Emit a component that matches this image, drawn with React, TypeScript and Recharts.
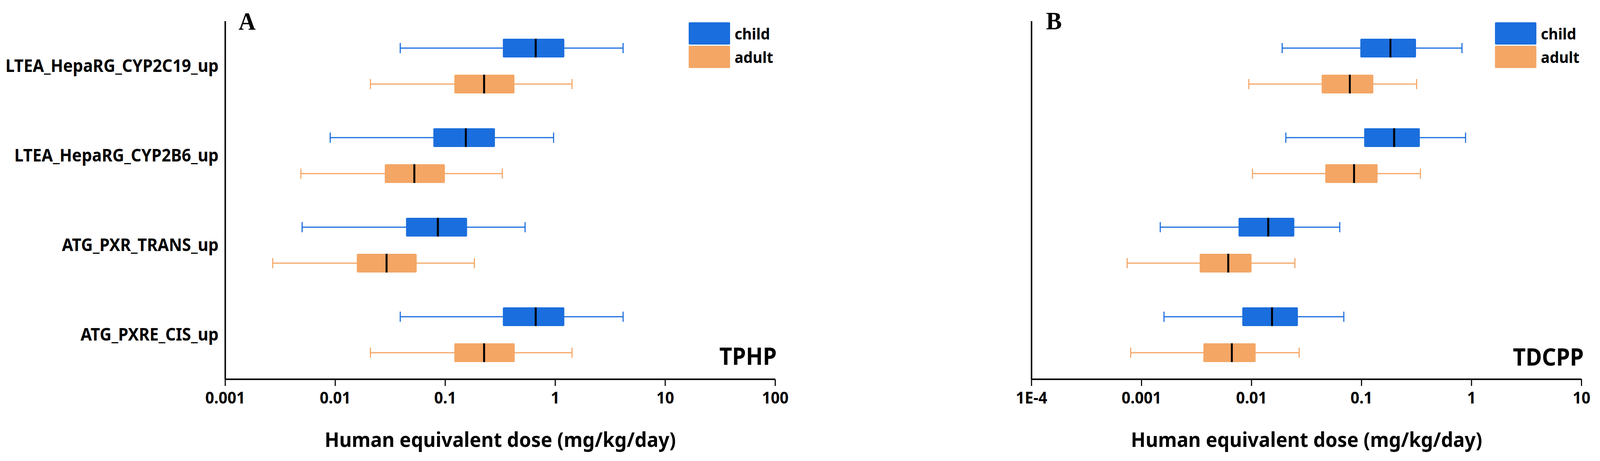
import { Bar, ComposedChart, ErrorBar, Legend, XAxis, YAxis } from 'recharts';

// assays, top to bottom
const CATEGORIES = [
  'LTEA_HepaRG_CYP2C19_up',
  'LTEA_HepaRG_CYP2B6_up',
  'ATG_PXR_TRANS_up',
  'ATG_PXRE_CIS_up',
];

const GROUPS = ['child', 'adult'] as const;
const COLORS: Record<string, string> = { child: '#1b6edd', adult: '#f4a665' };

// TPHP (panel A), mg/kg/day
const TPHP_CHILD_MIN = [0.039, 0.009, 0.005, 0.039];
const TPHP_CHILD_Q1 = [0.334, 0.078, 0.044, 0.334];
const TPHP_CHILD_MED = [0.664, 0.154, 0.0857, 0.664];
const TPHP_CHILD_Q3 = [1.21, 0.283, 0.158, 1.21];
const TPHP_CHILD_MAX = [4.14, 0.966, 0.532, 4.14];

const TPHP_ADULT_MIN = [0.0209, 0.00487, 0.0027, 0.0209];
const TPHP_ADULT_Q1 = [0.121, 0.0282, 0.0157, 0.121];
const TPHP_ADULT_MED = [0.2255, 0.0524, 0.0293, 0.2255];
const TPHP_ADULT_Q3 = [0.426, 0.0993, 0.055, 0.428];
const TPHP_ADULT_MAX = [1.42, 0.33, 0.184, 1.42];

// TDCPP (panel B)
const TDCPP_CHILD_MIN = [0.019, 0.0205, 0.00148, 0.0016];
const TDCPP_CHILD_Q1 = [0.0975, 0.1057, 0.00762, 0.00824];
const TDCPP_CHILD_MED = [0.183, 0.198, 0.0142, 0.01535];
const TDCPP_CHILD_Q3 = [0.313, 0.339, 0.0245, 0.0264];
const TDCPP_CHILD_MAX = [0.819, 0.883, 0.0634, 0.069];

const TDCPP_ADULT_MIN = [0.00944, 0.0102, 0.00074, 0.000797];
const TDCPP_ADULT_Q1 = [0.0434, 0.0468, 0.00338, 0.00365];
const TDCPP_ADULT_MED = [0.0783, 0.0855, 0.00614, 0.00662];
const TDCPP_ADULT_Q3 = [0.128, 0.14, 0.01, 0.0109];
const TDCPP_ADULT_MAX = [0.317, 0.343, 0.0248, 0.0271];

const A_TICKS = [0.001, 0.01, 0.1, 1, 10, 100];
const A_TICK_LABELS = ['0.001', '0.01', '0.1', '1', '10', '100'];
const B_TICKS = [0.0001, 0.001, 0.01, 0.1, 1, 10];
const B_TICK_LABELS = ['1E-4', '0.001', '0.01', '0.1', '1', '10'];

const X_TITLE = 'Human equivalent dose (mg/kg/day)';
const FONT = '"Noto Sans", sans-serif';

const PAGE_W = 4326;
const PAGE_H = 1179;

type Stats = { min: number[]; q1: number[]; med: number[]; q3: number[]; max: number[] };

function buildRows(child: Stats, adult: Stats) {
  return CATEGORIES.map((name, i) => {
    const row: Record<string, unknown> = { name };
    [['child', child], ['adult', adult]].forEach(([key, s]) => {
      const st = s as Stats;
      const k = key as string;
      row[k] = [st.q1[i], st.q3[i]];
      // error bars hang off q3 (the bar's value)
      row[k + 'Whisker'] = [st.q3[i] - st.min[i], st.max[i] - st.q3[i]];
      row[k + 'Median'] = [st.q3[i] - st.med[i], st.med[i] - st.q3[i]];
    });
    return row;
  });
}

const tphpRows = buildRows(
  { min: TPHP_CHILD_MIN, q1: TPHP_CHILD_Q1, med: TPHP_CHILD_MED, q3: TPHP_CHILD_Q3, max: TPHP_CHILD_MAX },
  { min: TPHP_ADULT_MIN, q1: TPHP_ADULT_Q1, med: TPHP_ADULT_MED, q3: TPHP_ADULT_Q3, max: TPHP_ADULT_MAX },
);
const tdcppRows = buildRows(
  { min: TDCPP_CHILD_MIN, q1: TDCPP_CHILD_Q1, med: TDCPP_CHILD_MED, q3: TDCPP_CHILD_Q3, max: TDCPP_CHILD_MAX },
  { min: TDCPP_ADULT_MIN, q1: TDCPP_ADULT_Q1, med: TDCPP_ADULT_MED, q3: TDCPP_ADULT_Q3, max: TDCPP_ADULT_MAX },
);

function LegendContent() {
  return (
    <div style={{ display: 'flex', flexDirection: 'column', gap: 3 }}>
      {GROUPS.map((g) => (
        <div key={g} style={{ display: 'flex', alignItems: 'center', height: 57 }}>
          <div style={{ width: 112, height: 57, background: COLORS[g], borderRadius: 3 }} />
          <span style={{ marginLeft: 12, fontFamily: FONT, fontWeight: 700, fontSize: 40, color: '#000' }}>{g}</span>
        </div>
      ))}
    </div>
  );
}

interface PanelProps {
  rows: Record<string, unknown>[];
  width: number;
  axisWidth: number;
  rightMargin: number;
  ticks: number[];
  tickLabels: string[];
  showCategories: boolean;
}

function Panel({ rows, width, axisWidth, rightMargin, ticks, tickLabels, showCategories }: PanelProps) {
  const tickStyle = { fontSize: 42, fontWeight: 700, fill: '#000', fontFamily: FONT };
  const catStyle = { fontSize: 44, fontWeight: 700, fill: '#000', fontFamily: FONT };
  return (
    <ComposedChart
      width={width}
      height={PAGE_H}
      data={rows}
      layout="vertical"
      barGap={44}
      margin={{ top: 54, right: rightMargin, bottom: 0, left: 0 }}
    >
      <XAxis
        type="number"
        scale="log"
        domain={[ticks[0], ticks[ticks.length - 1]]}
        allowDataOverflow
        ticks={ticks}
        interval={0}
        tickFormatter={(_v: number, i: number) => tickLabels[i]}
        height={209}
        axisLine={{ stroke: '#000', strokeWidth: 4 }}
        tickLine={{ stroke: '#000', strokeWidth: 3 }}
        tickSize={17}
        tickMargin={15}
        tick={tickStyle}
        label={{
          value: X_TITLE,
          position: 'insideBottom',
          offset: 36,
          fontSize: 52,
          fontWeight: 700,
          fill: '#000',
          fontFamily: FONT,
        }}
      />
      <YAxis
        type="category"
        dataKey="name"
        width={axisWidth}
        interval={0}
        axisLine={{ stroke: '#000', strokeWidth: 4 }}
        tickLine={false}
        tickSize={0}
        tickMargin={18}
        tick={showCategories ? catStyle : false}
      />
      <Legend
        layout="horizontal"
        align="center"
        verticalAlign="middle"
        content={() => <LegendContent />}
        wrapperStyle={{ left: width - rightMargin - 234, top: 57, width: 'auto' }}
      />
      {GROUPS.map((g) => (
        <Bar
          key={g}
          dataKey={g}
          name={g}
          fill={COLORS[g]}
          barSize={48}
          radius={3}
          isAnimationActive={false}
        >
          <ErrorBar
            dataKey={g + 'Whisker'}
            direction="x"
            width={13}
            stroke={COLORS[g]}
            strokeWidth={3}
            isAnimationActive={false}
          />
          <ErrorBar
            dataKey={g + 'Median'}
            direction="x"
            width={24}
            stroke="#000"
            strokeWidth={5}
            isAnimationActive={false}
          />
        </Bar>
      ))}
    </ComposedChart>
  );
}

export default function App() {
  // the viewport can come out narrower than the figure; squeeze horizontally so nothing is cut
  const sx = typeof window !== 'undefined' ? Math.min(1, window.innerWidth / PAGE_W) : 1;
  return (
    <div
      style={{
        position: 'absolute',
        left: 0,
        top: 0,
        width: PAGE_W,
        height: PAGE_H,
        background: '#fff',
        transform: `scaleX(${sx})`,
        transformOrigin: '0 0',
      }}
    >
      <div style={{ position: 'absolute', left: 0, top: 0 }}>
        <Panel
          rows={tphpRows}
          width={2200}
          axisWidth={609}
          rightMargin={104}
          ticks={A_TICKS}
          tickLabels={A_TICK_LABELS}
          showCategories
        />
      </div>
      <div style={{ position: 'absolute', left: 2200, top: 0 }}>
        <Panel
          rows={tdcppRows}
          width={2126}
          axisWidth={589}
          rightMargin={50}
          ticks={B_TICKS}
          tickLabels={B_TICK_LABELS}
          showCategories={false}
        />
      </div>
      <svg width={PAGE_W} height={PAGE_H} style={{ position: 'absolute', left: 0, top: 0, pointerEvents: 'none' }}>
        <text x={645} y={76} fontFamily='"Liberation Serif", serif' fontWeight={700} fontSize={64}>A</text>
        <text x={2828} y={75} fontFamily='"Liberation Serif", serif' fontWeight={700} fontSize={64}>B</text>
        <text x={2100} y={933} textAnchor="end" fontFamily={FONT} fontWeight={700} fontSize={60}>TPHP</text>
        <text x={4282} y={935} textAnchor="end" fontFamily={FONT} fontWeight={700} fontSize={60}>TDCPP</text>
      </svg>
    </div>
  );
}
